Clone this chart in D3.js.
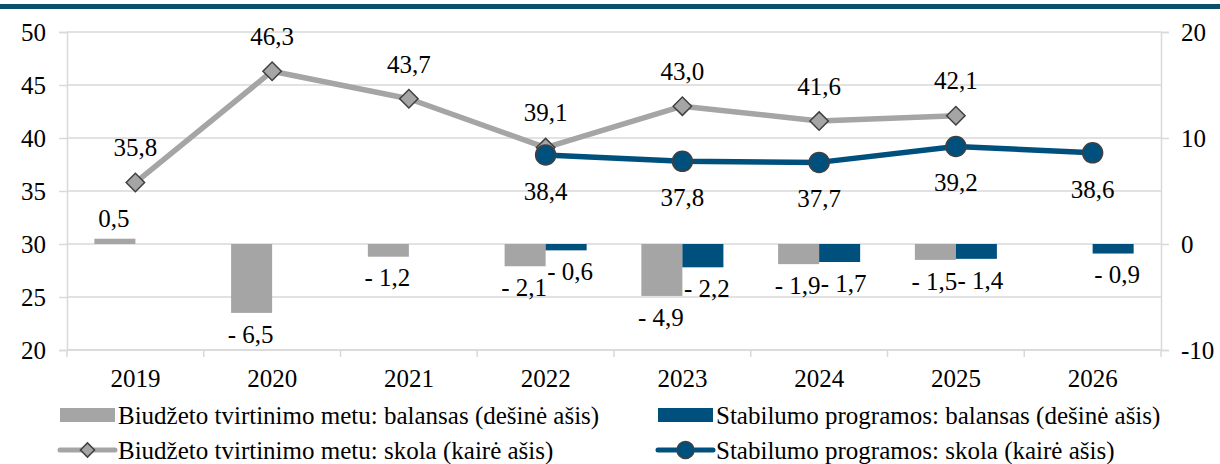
<!DOCTYPE html>
<html><head><meta charset="utf-8">
<script src="https://cdn.jsdelivr.net/npm/d3@7"></script>
<style>
html,body{margin:0;padding:0;background:#fff;}
svg text{font-family:"Liberation Serif","Times New Roman",serif;}
</style></head>
<body><svg id="c" width="1220" height="464"></svg>
<script>
const years = ["2019","2020","2021","2022","2023","2024","2025","2026"];
const balBudget = [0.5, -6.5, -1.2, -2.1, -4.9, -1.9, -1.5, null];
const balStab   = [null, null, null, -0.6, -2.2, -1.7, -1.4, -0.9];
const debtBudget = [35.8, 46.3, 43.7, 39.1, 43.0, 41.6, 42.1, null];
const debtStab   = [null, null, null, 38.4, 37.8, 37.7, 39.2, 38.6];
const leftTicks = [20, 25, 30, 35, 40, 45, 50];
const rightTicks = [-10, 0, 10, 20];
const legendLabels = [
  "Biudžeto tvirtinimo metu: balansas (dešinė ašis)",
  "Stabilumo programos: balansas (dešinė ašis)",
  "Biudžeto tvirtinimo metu: skola (kairė ašis)",
  "Stabilumo programos: skola (kairė ašis)"
];

const GRAY = "#a5a5a5", BLUE = "#00507d", GRID = "#d9d9d9", MK = "#404040";
const FONT = "'Liberation Serif','Times New Roman',serif";
const FS = 25;
const svg = d3.select("#c");
const L = 67, R = 1161, T = 32, B = 350;

function txt(g, x, y, s, anchor) {
  return g.append("text")
    .attr("x", x).attr("y", y)
    .attr("dy", "0.35em").attr("text-anchor", anchor || "middle")
    .attr("font-size", FS).attr("font-family", FONT).attr("fill", "#000")
    .text(s);
}

// top band
svg.append("rect").attr("x",0).attr("y",4).attr("width",1220).attr("height",5).attr("fill","#0b4f6c");

const x = d3.scaleBand().domain(years).range([L, R]);
const yL = d3.scaleLinear().domain([20, 50]).range([B, T]);
const yR = d3.scaleLinear().domain([-10, 20]).range([B, T]);
const fmt = v => (v < 0 ? "- " : "") + d3.format(".1f")(Math.abs(v)).replace(".", ",");
const cx = d => x(d) + x.bandwidth() / 2;

// gridlines
svg.append("g").selectAll("line").data(leftTicks).join("line")
  .attr("x1", L).attr("x2", R).attr("y1", d => yL(d)).attr("y2", d => yL(d))
  .attr("stroke", GRID).attr("stroke-width", 1.5);

// axes (lines + ticks via d3 axes; labels drawn as text)
const gl = svg.append("g").attr("transform", `translate(${L},0)`)
  .call(d3.axisLeft(yL).tickValues(leftTicks).tickSize(8).tickFormat(""));
const gr = svg.append("g").attr("transform", `translate(${R},0)`)
  .call(d3.axisRight(yR).tickValues(rightTicks).tickSize(8).tickFormat(""));
[gl, gr].forEach(g => {
  g.selectAll(".domain").attr("stroke", GRID).attr("stroke-width", 1.5);
  g.selectAll(".tick line").attr("stroke", GRID).attr("stroke-width", 1.5);
});
const labG = svg.append("g");
leftTicks.forEach(t => txt(labG, 46, yL(t), String(t), "end"));
rightTicks.forEach(t => txt(labG, 1181, yR(t), String(t), "start"));
years.forEach(yv => txt(labG, cx(yv), 378, yv, "middle"));

// category boundary ticks
svg.append("g").selectAll("line").data(years.concat(["__end"])).join("line")
  .attr("x1", d => d === "__end" ? R : x(d)).attr("x2", d => d === "__end" ? R : x(d))
  .attr("y1", B).attr("y2", B + 7)
  .attr("stroke", GRID).attr("stroke-width", 1.5);
svg.append("line").attr("x1", L).attr("x2", R).attr("y1", B).attr("y2", B)
  .attr("stroke", GRID).attr("stroke-width", 1.5);

// bars
const bw = x.bandwidth() * 0.3;
function bars(vals, color, off, dx) {
  const data = years.map((y, i) => ({y, v: vals[i]})).filter(d => d.v != null);
  svg.append("g").selectAll("rect").data(data).join("rect")
    .attr("x", d => cx(d.y) + off).attr("width", bw)
    .attr("y", d => Math.min(yR(d.v), yR(0)))
    .attr("height", d => Math.abs(yR(d.v) - yR(0)))
    .attr("fill", color);
  const g = svg.append("g");
  data.forEach(d => txt(g, cx(d.y) + off + bw / 2 + dx, yR(d.v) + (d.v < 0 ? 21 : -20), fmt(d.v)));
}
bars(balBudget, GRAY, -bw, -1);
bars(balStab, BLUE, 0, 4);

// lines
function series(vals, color, marker, labelOff) {
  const data = years.map((y, i) => ({y, v: vals[i]})).filter(d => d.v != null);
  svg.append("path").datum(data)
    .attr("d", d3.line().x(d => cx(d.y)).y(d => yL(d.v)))
    .attr("fill", "none").attr("stroke", color).attr("stroke-width", 5.5).attr("stroke-linejoin", "round");
  const g = svg.append("g");
  if (marker === "diamond") {
    g.selectAll("path").data(data).join("path")
      .attr("d", d3.symbol(d3.symbolSquare, 170))
      .attr("transform", d => `translate(${cx(d.y)},${yL(d.v)}) rotate(45)`)
      .attr("fill", GRAY).attr("stroke", MK).attr("stroke-width", 1.5);
  } else {
    g.selectAll("circle").data(data).join("circle")
      .attr("cx", d => cx(d.y)).attr("cy", d => yL(d.v)).attr("r", 10)
      .attr("fill", BLUE).attr("stroke", MK).attr("stroke-width", 1.5);
  }
  const tg = svg.append("g");
  data.forEach(d => txt(tg, cx(d.y), yL(d.v) + labelOff, fmt(d.v)));
}
series(debtBudget, GRAY, "diamond", -35);
series(debtStab, BLUE, "circle", 36);

// legend
const lg = svg.append("g");
const cols = [60, 658], rows = [415, 450], sw = 55;
legendLabels.forEach((t, i) => {
  const lx = cols[i % 2], ly = rows[Math.floor(i / 2)];
  const color = i % 2 === 0 ? GRAY : BLUE;
  if (i < 2) {
    lg.append("rect").attr("x", lx).attr("y", ly - 7).attr("width", sw).attr("height", 14).attr("fill", color);
  } else {
    lg.append("line").attr("x1", lx).attr("x2", lx + sw).attr("y1", ly).attr("y2", ly)
      .attr("stroke", color).attr("stroke-width", 5).attr("stroke-linecap", "round");
    if (i === 2) {
      lg.append("path").attr("d", d3.symbol(d3.symbolSquare, 100))
        .attr("transform", `translate(${lx + sw / 2},${ly}) rotate(45)`)
        .attr("fill", GRAY).attr("stroke", MK).attr("stroke-width", 1.5);
    } else {
      lg.append("circle").attr("cx", lx + sw / 2).attr("cy", ly).attr("r", 8.5)
        .attr("fill", BLUE).attr("stroke", MK).attr("stroke-width", 1.5);
    }
  }
  txt(lg, lx + sw + 3, ly, t, "start");
});
</script></body></html>
